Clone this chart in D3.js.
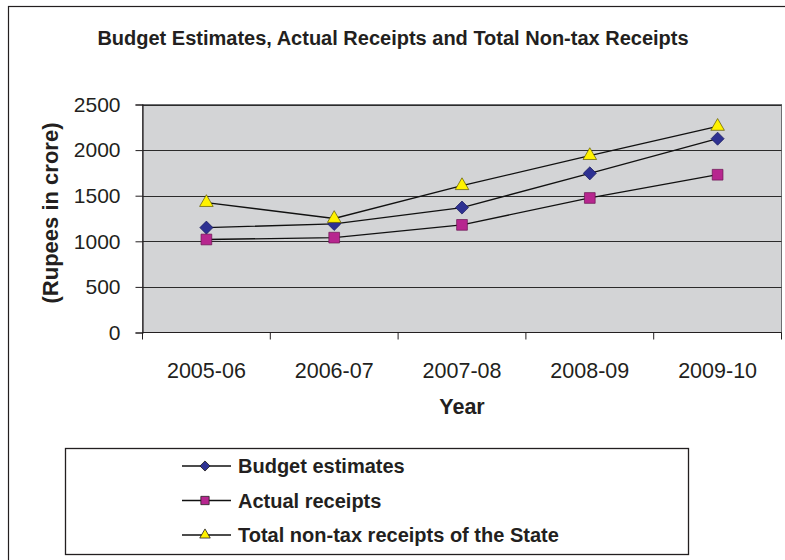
<!DOCTYPE html>
<html>
<head>
<meta charset="utf-8">
<script src="https://cdn.jsdelivr.net/npm/d3@7"></script>
<style>
  html, body { margin: 0; padding: 0; background: #fff; }
  svg { display: block; }
  text { font-family: Arial, "Liberation Sans", sans-serif; fill: #231f20; }
</style>
</head>
<body>
<svg id="chart" width="785" height="560"></svg>
<script>
const categories = ["2005-06", "2006-07", "2007-08", "2008-09", "2009-10"];
const budgetEstimates = [1150, 1190, 1370, 1745, 2125];
const actualReceipts = [1020, 1040, 1180, 1475, 1730];
const totalNonTax = [1425, 1250, 1610, 1940, 2260];
const yTicks = [0, 500, 1000, 1500, 2000, 2500];
const seriesNames = ["Budget estimates", "Actual receipts", "Total non-tax receipts of the State"];

const svg = d3.select("#chart");

// outer chart border
svg.append("rect").attr("x", 8.5).attr("y", 6.5).attr("width", 800).attr("height", 600)
  .attr("fill", "none").attr("stroke", "#231f20").attr("stroke-width", 1.2);

const plot = { left: 142.5, right: 781.5, top: 104.5, bottom: 332.5 };

const x = d3.scaleBand().domain(categories).range([plot.left, plot.right]);
const y = d3.scaleLinear().domain([0, 2500]).range([plot.bottom, plot.top]);

// plot background
svg.append("rect").attr("x", plot.left).attr("y", plot.top)
  .attr("width", plot.right - plot.left).attr("height", plot.bottom - plot.top)
  .attr("fill", "#d3d4d6").attr("stroke", "#6d6e71").attr("stroke-width", 1);

// gridlines
svg.append("g").selectAll("line").data(yTicks.filter(d => d > 0)).join("line")
  .attr("x1", plot.left).attr("x2", plot.right)
  .attr("y1", d => Math.round(y(d)) + 0.5).attr("y2", d => Math.round(y(d)) + 0.5)
  .attr("stroke", "#2b2b2b").attr("stroke-width", 1.1);

// y axis
const yAxis = d3.axisLeft(y).tickValues(yTicks).tickFormat(d3.format("d")).tickSize(7).tickPadding(15);
const gy = svg.append("g").attr("transform", `translate(${plot.left},0)`).call(yAxis);
gy.select(".domain").attr("stroke", "#231f20").attr("stroke-width", 1.2);
gy.selectAll(".tick line").attr("stroke", "#231f20");
gy.selectAll(".tick text").attr("font-size", 21).attr("fill", "#231f20")
  .attr("font-family", "Arial, 'Liberation Sans', sans-serif");

// x axis (ticks at band boundaries)
const gx = svg.append("g").attr("transform", `translate(0,${plot.bottom})`);
gx.append("line").attr("x1", plot.left).attr("x2", plot.right).attr("y1", 0).attr("y2", 0)
  .attr("stroke", "#231f20").attr("stroke-width", 1.2);
const bounds = categories.map(c => x(c)).concat([x(categories[categories.length - 1]) + x.bandwidth()]);
gx.selectAll("line.tk").data(bounds).join("line").attr("class", "tk")
  .attr("x1", d => d).attr("x2", d => d).attr("y1", 0).attr("y2", 7)
  .attr("stroke", "#231f20");
gx.selectAll("text").data(categories).join("text")
  .attr("x", d => x(d) + x.bandwidth() / 2).attr("y", 45)
  .attr("text-anchor", "middle").attr("font-size", 21.5).text(d => d);

// axis titles
svg.append("text").attr("x", 462).attr("y", 414).attr("text-anchor", "middle")
  .attr("font-size", 21.5).attr("font-weight", "bold").text("Year");
svg.append("text").attr("transform", "translate(58,213) rotate(-90)").attr("text-anchor", "middle")
  .attr("font-size", 22).attr("font-weight", "bold").text("(Rupees in crore)");

// title
svg.append("text").attr("x", 393).attr("y", 45).attr("text-anchor", "middle")
  .attr("font-size", 20).attr("font-weight", "bold").text("Budget Estimates, Actual Receipts and Total Non-tax Receipts");

const cx = c => x(c) + x.bandwidth() / 2;
const line = d3.line().x(d => cx(d.c)).y(d => y(d.v));

const series = [
  { name: seriesNames[0], values: budgetEstimates, symbol: d3.symbolSquare, rot: 45, size: 85, color: "#2e3192", stroke: "#1b1d5e" },
  { name: seriesNames[1], values: actualReceipts, symbol: d3.symbolSquare, rot: 0, size: 115, color: "#b7268f", stroke: "#6a1552" },
  { name: seriesNames[2], values: totalNonTax, symbol: d3.symbolTriangle, rot: 0, size: 80, color: "#fff200", stroke: "#5a5400" }
];

series.forEach(s => {
  const data = categories.map((c, i) => ({ c, v: s.values[i] }));
  svg.append("path").datum(data).attr("d", line)
    .attr("fill", "none").attr("stroke", "#111").attr("stroke-width", 1.3);
});
series.forEach(s => {
  const data = categories.map((c, i) => ({ c, v: s.values[i] }));
  svg.append("g").selectAll("path").data(data).join("path")
    .attr("transform", d => `translate(${cx(d.c)},${y(d.v)}) rotate(${s.rot})`)
    .attr("d", d3.symbol().type(s.symbol).size(s.size))
    .attr("fill", s.color).attr("stroke", s.stroke).attr("stroke-width", 0.7);
});

// legend
svg.append("rect").attr("x", 65.5).attr("y", 448.5).attr("width", 623).attr("height", 106)
  .attr("fill", "#fff").attr("stroke", "#231f20").attr("stroke-width", 1.3);
const lg = svg.append("g");
series.forEach((s, i) => {
  const ly = 466 + i * 34.5;
  lg.append("line").attr("x1", 182).attr("x2", 231).attr("y1", ly).attr("y2", ly)
    .attr("stroke", "#111").attr("stroke-width", 1.3);
  lg.append("path").attr("transform", `translate(205,${ly}) rotate(${s.rot})`)
    .attr("d", d3.symbol().type(s.symbol).size(s.size * 0.6))
    .attr("fill", s.color).attr("stroke", "#231f20").attr("stroke-width", 0.8);
  lg.append("text").attr("x", 238).attr("y", ly + 7).attr("font-size", 20).attr("font-weight", "bold")
    .text(s.name);
});
</script>
</body>
</html>
